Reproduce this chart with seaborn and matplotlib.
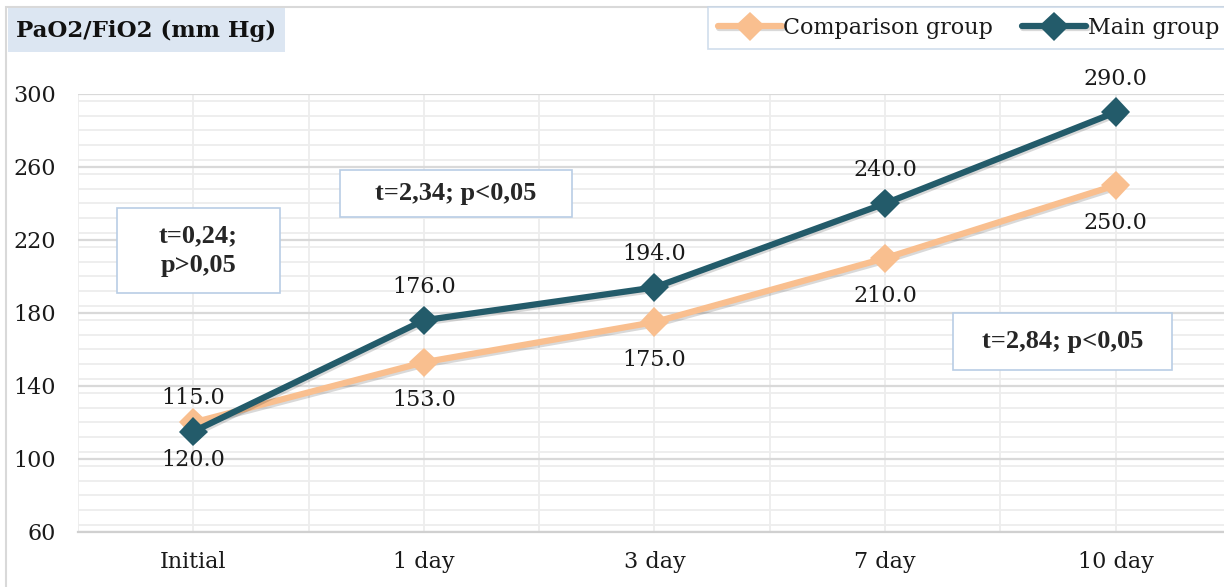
import pandas as pd
import matplotlib
matplotlib.use("Agg")
import matplotlib.pyplot as plt
import matplotlib.patheffects as pe
from matplotlib.patches import Rectangle
from matplotlib.ticker import MultipleLocator
import seaborn as sns

# data
days = ["Initial", "1 day", "3 day", "7 day", "10 day"]
comparison_group = [120, 153, 175, 210, 250]
main_group = [115, 176, 194, 240, 290]
groups = ["Comparison group", "Main group"]
colors = ["#F9BF8F", "#235B6A"]
y_ticks = [60, 100, 140, 180, 220, 260, 300]

stats_texts = ["t=0,24;\np>0,05", "t=2,34; p<0,05", "t=2,84; p<0,05"]

df = pd.DataFrame({
    "day": days * 2,
    "value": comparison_group + main_group,
    "group": [groups[0]] * len(days) + [groups[1]] * len(days),
})

sns.set_style("white")
plt.rcParams["font.family"] = ["DejaVu Serif"]

fig = plt.figure(figsize=(12.24, 5.87), dpi=100)
ax = fig.add_axes([0.0637, 0.0937, 0.942, 0.7462])

sns.lineplot(data=df, x="day", y="value", hue="group", hue_order=groups,
             palette=colors, marker="D", markersize=15, linewidth=4.5,
             markeredgewidth=0, sort=False, ax=ax)

for line in ax.lines:
    line.set_path_effects([pe.SimpleLineShadow(offset=(1, -1.5), alpha=0.15),
                           pe.Normal()])

ax.set_ylim(60, 300)
ax.set_xlim(-0.5, 4.5)
ax.yaxis.set_major_locator(MultipleLocator(40))
ax.yaxis.set_minor_locator(MultipleLocator(8))
ax.set_yticks(y_ticks)
ax.set_xticks(range(len(days)))
ax.set_xticks([i + 0.5 for i in range(-1, len(days))], minor=True)
ax.grid(which="major", axis="y", color="#D9D9D9", linewidth=1.6)
ax.grid(which="minor", axis="y", color="#EDEDED", linewidth=1.3)
ax.grid(which="both", axis="x", color="#EDEDED", linewidth=1.3)
ax.set_axisbelow(True)
ax.tick_params(axis="both", which="both", length=0, labelsize=16, labelcolor="#1A1A1A")
ax.tick_params(axis="y", pad=16)
ax.tick_params(axis="x", pad=14)
ax.set_xlabel("")
ax.set_ylabel("")
for s in ["top", "right", "left"]:
    ax.spines[s].set_visible(False)
ax.spines["bottom"].set_color("#D0D0D0")
ax.spines["bottom"].set_linewidth(1.6)

# value labels
for i, v in enumerate(main_group):
    ax.annotate(f"{v:.1f}", (i, v), xytext=(0, 24), textcoords="offset points",
                ha="center", va="center", fontsize=16, color="#1A1A1A")
for i, v in enumerate(comparison_group):
    ax.annotate(f"{v:.1f}", (i, v), xytext=(0, -27), textcoords="offset points",
                ha="center", va="center", fontsize=16, color="#1A1A1A")

# legend
handles, labels = ax.get_legend_handles_labels()
ax.get_legend().remove()
leg = fig.legend(handles, labels, loc="upper right", bbox_to_anchor=(1.004, 0.988),
                 ncol=2, frameon=True, fancybox=False, fontsize=16,
                 handlelength=2.9, handletextpad=0.05, columnspacing=1.3,
                 borderpad=0.45, borderaxespad=0)
leg.get_frame().set_edgecolor("#C5D5E8")
leg.get_frame().set_linewidth(1.2)
for t in leg.get_texts():
    t.set_color("#1A1A1A")

# outer border and title box
fig.patches.append(Rectangle((0.005, -0.1), 1.2, 1.088, transform=fig.transFigure,
                             fill=False, edgecolor="#D9D9D9", linewidth=1.5, zorder=0))
fig.patches.append(Rectangle((0.0065, 0.9114), 0.226, 0.075, transform=fig.transFigure,
                             facecolor="#DCE6F2", edgecolor="none", zorder=1))
fig.text(0.119, 0.948, "PaO2/FiO2 (mm Hg)", ha="center", va="center",
         fontsize=16.5, fontweight="bold", color="#111111")

# statistics boxes (pixel boxes converted to figure fractions)
box_specs = [((117, 208, 280, 293), stats_texts[0]),
             ((340, 170, 572, 217), stats_texts[1]),
             ((953, 313, 1172, 370), stats_texts[2])]
W, H = 1224, 587
for (x0, y0, x1, y1), txt in box_specs:
    fig.patches.append(Rectangle((x0 / W, 1 - y1 / H), (x1 - x0) / W, (y1 - y0) / H,
                                 transform=fig.transFigure, facecolor="white",
                                 edgecolor="#B9CDE5", linewidth=1.2, zorder=3))
    fig.text((x0 + x1) / 2 / W, 1 - (y0 + y1) / 2 / H, txt, ha="center", va="center",
             fontsize=19, fontweight="bold", family="Liberation Serif",
             linespacing=1.35, zorder=4)

fig.savefig("out.png", dpi=100)
